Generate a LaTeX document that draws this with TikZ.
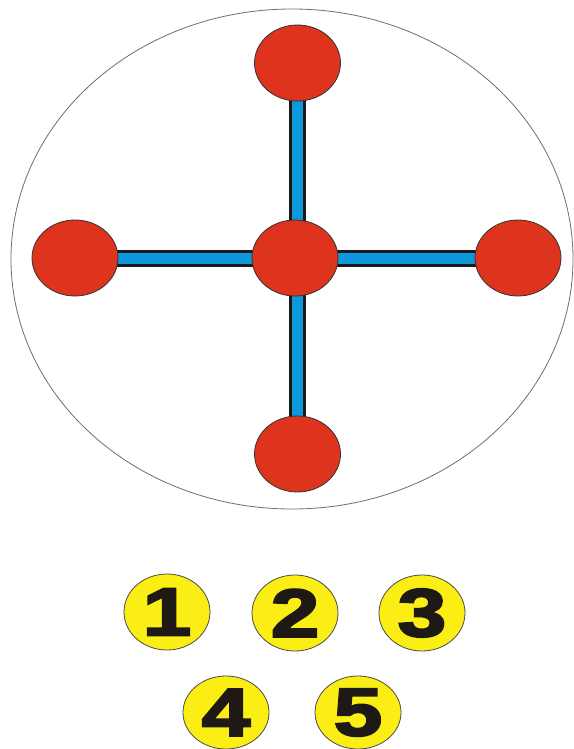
\documentclass[tikz,border=0pt]{standalone}
\usepackage{fontspec}
\setmainfont{Liberation Sans}
\newfontfamily\digitfont[FakeBold=3]{Liberation Sans Bold}
\usetikzlibrary{shapes.geometric,backgrounds}
\definecolor{ballred}{RGB}{222,52,30}
\definecolor{barblue}{RGB}{14,152,220}
\definecolor{numyellow}{RGB}{250,238,20}
\definecolor{rimgray}{RGB}{110,110,110}
\definecolor{digitblack}{RGB}{30,25,20}
\tikzset{
  ball/.style={ellipse,draw=black!80,line width=0.8pt,fill=ballred,minimum width=86pt,minimum height=76pt,inner sep=0pt},
  numdisc/.style={ellipse,draw=black!70,line width=0.8pt,fill=numyellow,minimum width=86pt,minimum height=76pt,inner sep=0pt},
  numtext/.style={inner sep=0pt,text=digitblack,font=\fontsize{68}{68}\selectfont\digitfont},
  barout/.style={line width=17pt,draw=black!90},
  barin/.style={line width=11pt,draw=barblue},
  rim/.style={draw=rimgray,line width=0.8pt}
}
\newcommand{\wdig}[1]{\scalebox{1.28}[1]{#1}}
\begin{document}
\begin{tikzpicture}[x=1pt,y=-1pt]
\useasboundingbox (0,0) rectangle (573,749);
\node[ellipse,rim,minimum width=562pt,minimum height=500pt,inner sep=0pt] (rim) at (292,259) {};
\node[ball] (c) at (295,258) {};
\node[ball] (t) at (297.5,63) {};
\node[ball] (b) at (297.5,454) {};
\node[ball] (l) at (75,258) {};
\node[ball] (r) at (518,258) {};
\begin{scope}[on background layer]
  \fill[white] (0,0) rectangle (573,749);
  \draw[barout] (t.center) -- (b.center);
  \draw[barout] (l.center) -- (r.center);
  \draw[barin] (t.center) -- (b.center);
  \draw[barin] (l.center) -- (r.center);
\end{scope}
\node[numdisc] (d1) at (167,612) {};
\node[numdisc] (d2) at (295,613) {};
\node[numdisc] (d3) at (422,613) {};
\node[numdisc,minimum height=73pt] (d4) at (226,712.5) {};
\node[numdisc,minimum height=73pt] (d5) at (358,712.5) {};
\node[numtext] (n1) at (d1) {\wdig{1}};
\node[numtext] (n2) at (d2) {\wdig{2}};
\node[numtext] (n3) at (d3) {\wdig{3}};
\node[numtext] (n4) at (d4) {\wdig{4}};
\node[numtext] (n5) at (d5) {\wdig{5}};
\end{tikzpicture}
\end{document}
